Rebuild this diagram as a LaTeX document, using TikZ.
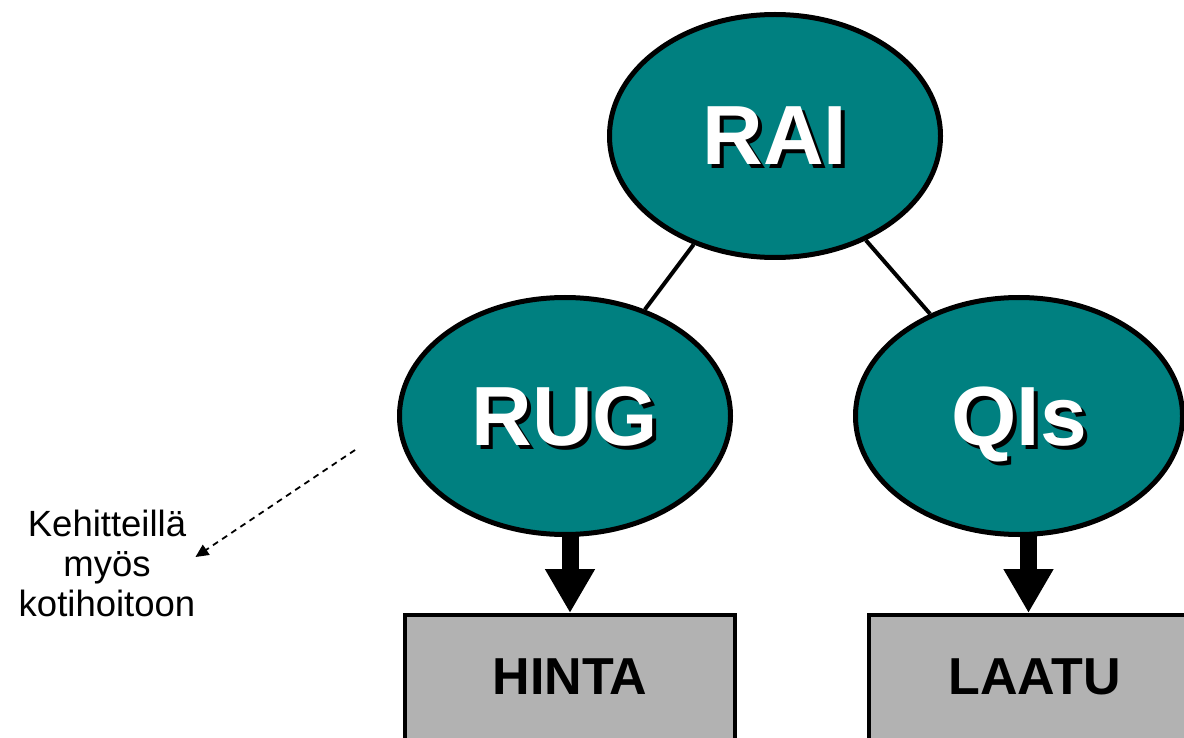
\documentclass[tikz,border=0pt]{standalone}
\usepackage{fontspec}
\setmainfont{Liberation Sans}
\usetikzlibrary{arrows.meta,shapes.geometric}
\definecolor{raiteal}{RGB}{0,128,128}
\definecolor{boxgray}{RGB}{178,178,178}
\newcommand{\shadowed}[1]{\leavevmode\raisebox{0pt}[\height][0pt]{\rlap{\kern4pt\raisebox{-4pt}{\textcolor{black}{#1}}}\textcolor{white}{#1}}}

\begin{document}
\begin{tikzpicture}[x=1pt,y=-1pt,
        main/.style = {draw, ellipse, fill=raiteal, line width=5pt, inner sep=0pt, font=\bfseries\fontsize{84}{84}\selectfont},
        box/.style = {draw, rectangle, fill=boxgray, line width=4pt, minimum width=330pt, minimum height=130pt, text depth=6pt, font=\bfseries\fontsize{52}{52}\selectfont},
        link/.style = {line width=4pt},
        bigarrow/.style = {line width=17pt, -{Triangle[length=44pt,width=47pt]}},
        notearrow/.style = {line width=1.8pt, dash pattern=on 6pt off 5pt, -{Triangle[length=13pt,width=12pt]}}]
        \useasboundingbox (0,0) rectangle (1184,738);

        \node[main, minimum width=331pt, minimum height=243pt] (0) at (775,136) {\shadowed{RAI}};
        \node[main, minimum width=331pt, minimum height=237pt] (1) at (565,416) {\shadowed{RUG}};
        \node[main, minimum width=327pt, minimum height=237pt] (2) at (1019,416) {\shadowed{QIs}};
        \node[box] (3) at (570,680) {HINTA};
        \node[box, minimum width=331pt] (4) at (1034.5,680) {LAATU};
        \node[align=center, inner sep=0pt, font=\fontsize{36.5}{40}\selectfont] (5) at (107,563) {Kehitteillä\\myös\\kotihoitoon};
        \coordinate (6) at (355,450);

        \draw[link] (0) -- (1);
        \draw[link] (0) -- (2);
        \draw[bigarrow] ([yshift=2pt]3.north |- 1.south) -- (3.north);
        \draw[bigarrow] ([xshift=-6pt,yshift=2pt]4.north |- 2.south) -- ([xshift=-6pt]4.north);
        \draw[notearrow] (6) -- ([yshift=6pt]5.east);
\end{tikzpicture}
\end{document}
